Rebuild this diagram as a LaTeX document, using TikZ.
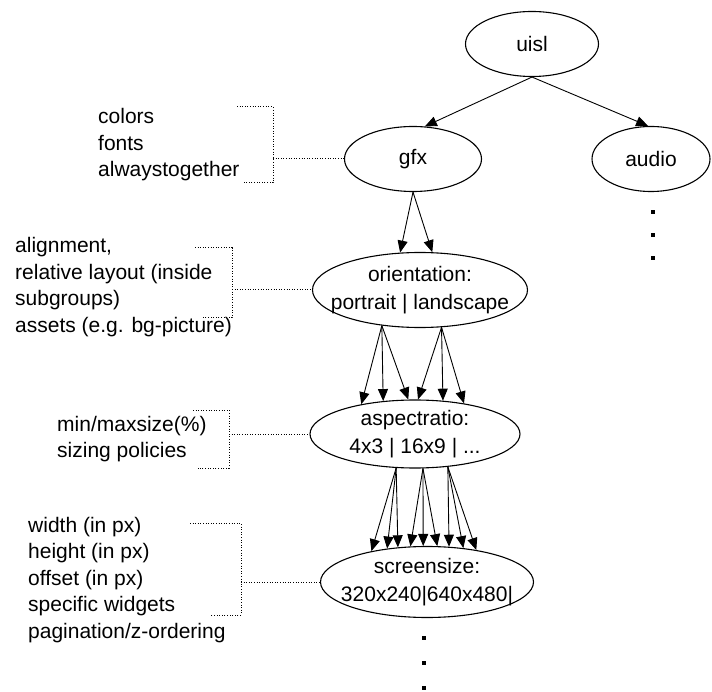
\documentclass[tikz,border=0pt]{standalone}
\usepackage{fontspec}
\setmainfont{Liberation Sans}
\usetikzlibrary{shapes.geometric,arrows.meta}
\begin{document}
\begin{tikzpicture}[x=1pt,y=-1pt,
  oval/.style={draw, ellipse, line width=1.1pt, inner xsep=-40pt, inner ysep=-25pt,
    align=center, font=\fontsize{21}{28}\selectfont},
  arr/.style={line width=0.9pt, -{Triangle[length=12pt,width=10pt]}},
  dotline/.style={line width=1pt, dash pattern=on 1pt off 1.6pt},
  lbl/.style={align=left, inner sep=0pt, anchor=west, font=\fontsize{21}{26.5}\selectfont},
  bigdot/.style={fill, rectangle, inner sep=0pt, minimum size=3.4pt}
]
\useasboundingbox (0,0) rectangle (712,692);

% ellipses
\node[oval, minimum width=133pt, minimum height=65pt] (uisl) at (532,44) {uisl};
\node[oval, minimum width=137pt, minimum height=65pt] (gfx) at (413,159) {gfx};
\node[oval, minimum width=118pt, minimum height=65pt] (audio) at (651,159) {audio};
\node[oval, minimum width=215pt, minimum height=75pt] (orient) at (420,290) {orientation:\\portrait | landscape};
\node[oval, minimum width=210pt, minimum height=68pt] (aspect) at (415,434) {aspectratio:\\4x3 | 16x9 | ...};
\node[oval, minimum width=213pt, minimum height=71pt] (screen) at (427,582) {screensize:\\320x240|640x480|};

% tree arrows
\draw[arr] (uisl.south) -- (gfx.70);
\draw[arr] (uisl.south) -- (audio.95);
\draw[arr] (gfx.south) -- (orient.118);
\draw[arr] (gfx.south) -- (orient.72);

\draw[arr] (orient.223.6) -- (aspect.151);
\draw[arr] (orient.223.6) -- (aspect.134.7);
\draw[arr] (orient.223.6) -- (aspect.101.7);
\draw[arr] (orient.300.9) -- (aspect.85);
\draw[arr] (orient.300.9) -- (aspect.50.6);
\draw[arr] (orient.300.9) -- (aspect.32.2);

\draw[arr] (aspect.241.7) -- (screen.151.1);
\draw[arr] (aspect.241.7) -- (screen.140.6);
\draw[arr] (aspect.241.7) -- (screen.130.3);
\draw[arr] (aspect.283.3) -- (screen.115.9);
\draw[arr] (aspect.283.3) -- (screen.96.4);
\draw[arr] (aspect.283.3) -- (screen.74.2);
\draw[arr] (aspect.315.6) -- (screen.58.9);
\draw[arr] (aspect.315.6) -- (screen.43.7);
\draw[arr] (aspect.315.6) -- (screen.33.4);

% continuation dots
\node[bigdot] (ad1) at (653,212) {};
\node[bigdot] (ad2) at (653,235) {};
\node[bigdot] (ad3) at (653,258) {};
\node[bigdot] (sd1) at (424,638) {};
\node[bigdot] (sd2) at (424,663) {};
\node[bigdot] (sd3) at (424,688) {};

% annotation texts
\node[lbl] (tA) at (98,145) {colors\\fonts\\alwaystogether};
\node[lbl] (tB) at (15,287) {alignment,\\relative layout (inside\\subgroups)\\assets (e.g. bg-picture)};
\node[lbl] (tC) at (57,439) {min/maxsize(\%)\\sizing policies};
\node[lbl] (tD) at (28,580) {width (in px)\\height (in px)\\offset (in px)\\specific widgets\\pagination/z-ordering};

% brackets
\draw[dotline] (237,107) -- (273,107) -- (273,183) -- (243,183);
\coordinate (bA) at (273,159);
\draw[dotline] (bA) -- (gfx.west);

\draw[dotline] (195,248) -- (232,248) -- (232,318) -- (203,318);
\coordinate (bB) at (232,290);
\draw[dotline] (bB) -- (orient.west);

\draw[dotline] (193,410) -- (229,410) -- (229,468) -- (198,468);
\coordinate (bC) at (229,434);
\draw[dotline] (bC) -- (aspect.west);

\draw[dotline] (190,523) -- (241,523) -- (241,615) -- (210,615);
\coordinate (bD) at (241,582);
\draw[dotline] (bD) -- (screen.west);
\end{tikzpicture}
\end{document}
